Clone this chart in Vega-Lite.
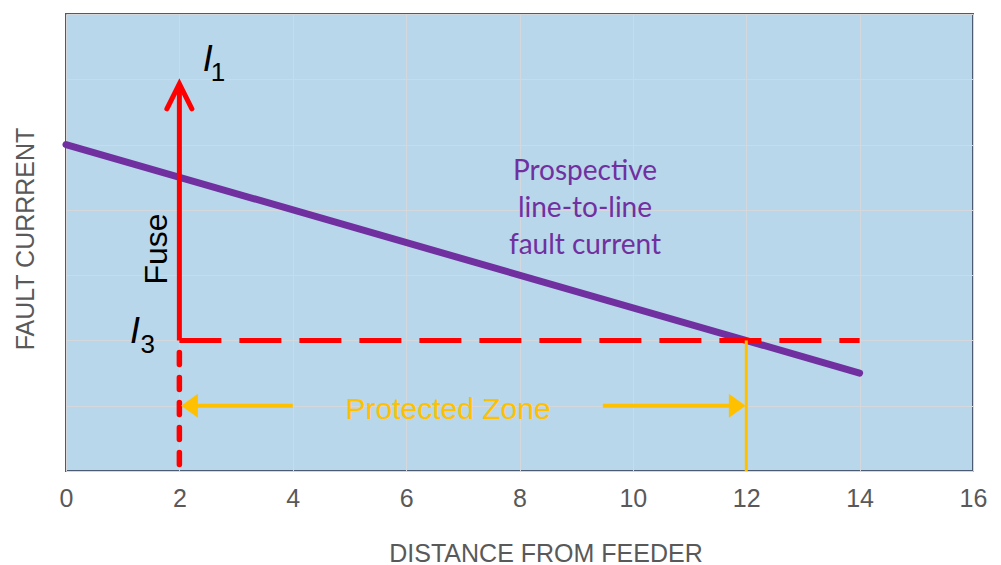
{
  "$schema": "https://vega.github.io/schema/vega-lite/v6.json",
  "width": 907,
  "height": 457,
  "autosize": {"type": "none"},
  "padding": {"left": 66, "top": 14, "right": 28, "bottom": 94},
  "background": "#ffffff",
  "config": {
    "view": {"fill": "#b9d7ea", "stroke": "#4d5b72", "strokeWidth": 2},
    "axis": {"gridColor": "#d4d8dc", "gridWidth": 1, "gridOpacity": 1}
  },
  "encoding": {
    "x": {
      "field": "x", "type": "quantitative",
      "scale": {"domain": [0, 16], "nice": false, "zero": false},
      "axis": {
        "values": [0, 2, 4, 6, 8, 10, 12, 14, 16],
        "grid": true, "ticks": false, "domain": false,
        "labelFont": "Liberation Sans", "labelFontSize": 25, "labelColor": "#595959",
        "labelPadding": 15, "labelFlush": false,
        "title": "DISTANCE FROM FEEDER",
        "titleFont": "Liberation Sans", "titleFontSize": 25, "titleFontWeight": "normal",
        "titleColor": "#595959", "titleX": 479.5, "titleY": 82, "titleBaseline": "middle", "titleAlign": "center"
      }
    },
    "y": {
      "field": "y", "type": "quantitative",
      "scale": {"domain": [0, 7], "nice": false, "zero": false},
      "axis": {
        "values": [0, 1, 2, 3, 4, 5, 6, 7],
        "grid": true, "ticks": false, "domain": false, "labels": false,
        "title": "FAULT CURRRENT",
        "titleFont": "Liberation Sans", "titleFontSize": 25, "titleFontWeight": "normal",
        "titleColor": "#595959", "titleX": -41, "titleY": 224.5, "titleAngle": -90,
        "titleBaseline": "middle", "titleAlign": "center"
      }
    }
  },
  "layer": [
    {
      "data": {"values": [{"x": 0, "y": 5}, {"x": 14, "y": 1.5}]},
      "mark": {"type": "line", "color": "#7030a0", "strokeWidth": 7, "strokeCap": "round"}
    },
    {
      "data": {"values": [{"x": 2, "y": 2, "y2": 5.93}]},
      "mark": {"type": "rule", "color": "#ff0000", "strokeWidth": 5},
      "encoding": {"y2": {"field": "y2"}}
    },
    {
      "data": {"values": [{"x": 2, "y": 0.1, "y2": 2}]},
      "mark": {"type": "rule", "color": "#ff0000", "strokeWidth": 5.5, "strokeCap": "round", "strokeDash": [12, 13]},
      "encoding": {"y2": {"field": "y2"}}
    },
    {
      "data": {"values": [{"x": 2, "x2": 14, "y": 2}]},
      "mark": {"type": "rule", "color": "#ff0000", "strokeWidth": 5, "strokeCap": "butt", "strokeDash": [42, 18]},
      "encoding": {"x2": {"field": "x2"}}
    },
    {
      "data": {"values": [{"x": 12, "y": 0, "y2": 2}]},
      "mark": {"type": "rule", "color": "#ffc000", "strokeWidth": 3},
      "encoding": {"y2": {"field": "y2"}}
    },
    {
      "data": {"values": [{"x": 2.2, "x2": 4.0, "y": 1}, {"x": 9.47, "x2": 11.8, "y": 1}]},
      "mark": {"type": "rule", "color": "#ffc000", "strokeWidth": 4},
      "encoding": {"x2": {"field": "x2"}}
    },
    {
      "data": {"values": [{"x": 2, "y": 5.93}]},
      "mark": {"type": "point", "shape": "M-0.5,1L0,0L0.5,1", "size": 2500, "filled": false, "stroke": "#ff0000", "strokeWidth": 5, "strokeCap": "round", "strokeJoin": "miter", "opacity": 1}
    },
    {
      "data": {"values": [{"x": 2.03, "y": 1}]},
      "mark": {"type": "point", "shape": "M0,0L1.4,-1L1.4,1Z", "size": 576, "filled": true, "color": "#ffc000", "opacity": 1}
    },
    {
      "data": {"values": [{"x": 11.99, "y": 1}]},
      "mark": {"type": "point", "shape": "M0,0L-1.4,-1L-1.4,1Z", "size": 576, "filled": true, "color": "#ffc000", "opacity": 1}
    },
    {
      "data": {"values": [{"x": 9.155, "y": 4.58, "label": "Prospective\nline-to-line\nfault current"}]},
      "mark": {"type": "text", "font": "Lato", "fontSize": 28, "color": "#7030a0", "align": "center", "baseline": "middle", "lineBreak": "\n", "lineHeight": 37},
      "encoding": {"text": {"field": "label"}}
    },
    {
      "data": {"values": [{"x": 6.74, "y": 0.94, "label": "Protected Zone"}]},
      "mark": {"type": "text", "font": "Liberation Sans", "fontSize": 30, "color": "#ffc000", "align": "center", "baseline": "middle"},
      "encoding": {"text": {"field": "label"}}
    },
    {
      "data": {"values": [{"x": 1.605, "y": 3.4, "label": "Fuse"}]},
      "mark": {"type": "text", "font": "Liberation Sans", "fontSize": 32, "color": "#000000", "align": "center", "baseline": "middle", "angle": 270},
      "encoding": {"text": {"field": "label"}}
    },
    {
      "data": {"values": [{"x": 2.5, "y": 6.3, "label": "I"}, {"x": 1.217, "y": 2.13, "label": "I"}]},
      "mark": {"type": "text", "font": "Liberation Sans", "fontSize": 36, "fontStyle": "italic", "color": "#000000", "align": "center", "baseline": "middle"},
      "encoding": {"text": {"field": "label"}}
    },
    {
      "data": {"values": [{"x": 2.68, "y": 6.09, "label": "1"}, {"x": 1.44, "y": 1.93, "label": "3"}]},
      "mark": {"type": "text", "font": "Liberation Sans", "fontSize": 26, "color": "#000000", "align": "center", "baseline": "middle"},
      "encoding": {"text": {"field": "label"}}
    }
  ]
}
